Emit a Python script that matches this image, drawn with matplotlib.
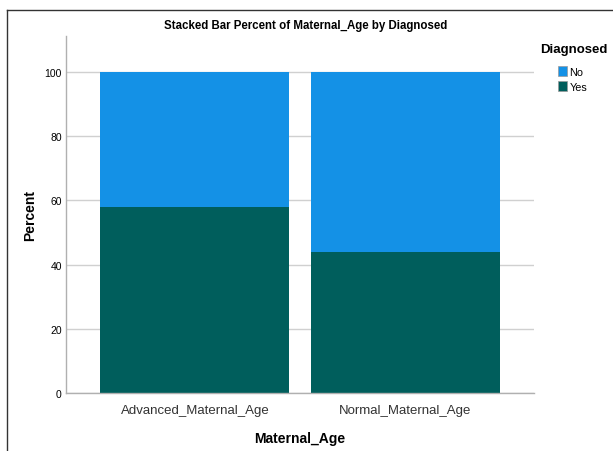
import matplotlib
matplotlib.use("Agg")
import matplotlib.pyplot as plt
from matplotlib.patches import Patch
from matplotlib.lines import Line2D

categories = ["Advanced_Maternal_Age", "Normal_Maternal_Age"]
yes_pct = [57.8, 43.8]
no_pct = [100 - v for v in yes_pct]
series_names = ["No", "Yes"]
yticks = [0, 20, 40, 60, 80, 100]

c_no = "#1491E6"
c_yes = "#005E5C"

plt.rcParams['font.family'] = ['Liberation Sans', 'DejaVu Sans']

fig = plt.figure(figsize=(6.13, 4.52), dpi=100)
ax = fig.add_axes([66/613, 1 - 394/452, (534-66)/613, (394-37)/452])

x = list(range(len(categories)))
ax.bar(x, yes_pct, width=0.9, color=c_yes, zorder=2)
ax.bar(x, no_pct, width=0.9, bottom=yes_pct, color=c_no, zorder=2)

ax.set_xlim(-0.614, 1.614)
ax.set_ylim(0, 111.2)
ax.set_yticks(yticks)
ax.set_yticklabels([str(t) for t in yticks], fontsize=7.5)
ax.set_xticks(x)
ax.set_xticklabels(categories, fontsize=9.5, color="#333333")
ax.yaxis.grid(True, color="#d0d0d0", linewidth=1, zorder=0)
ax.tick_params(axis='x', length=0, pad=8)
ax.tick_params(axis='y', length=0, pad=3)
for s in ["top", "right"]:
    ax.spines[s].set_visible(False)
for s in ["left", "bottom"]:
    ax.spines[s].set_color("#b0b0b0")
    ax.spines[s].set_linewidth(1)

ax.set_xlabel("Maternal_Age", fontsize=10, fontweight="bold", labelpad=11)
ax.set_ylabel("Percent", fontsize=10, fontweight="bold", labelpad=5)
fig.text(306/613, 1 - 26/452, "Stacked Bar Percent of Maternal_Age by Diagnosed",
         ha="center", va="center", fontsize=8.3, fontweight="bold")

fig.text(540/613, 1 - 50/452, "Diagnosed", ha="left", va="center",
         fontsize=9.5, fontweight="bold")
handles = [Patch(facecolor=c_no, edgecolor="#999999", linewidth=0.5),
           Patch(facecolor=c_yes, edgecolor="#999999", linewidth=0.5)]
leg = fig.legend(handles, series_names, loc="upper left",
                 bbox_to_anchor=(558/613, 1 - 67/452), frameon=False,
                 prop={'size': 7.8},
                 handlelength=0.85, handleheight=1.0,
                 handletextpad=0.2, labelspacing=0.45, borderpad=0, borderaxespad=0)

# outer frame
fig.add_artist(Line2D([7/613, 7/613], [0, 1 - 11/452], transform=fig.transFigure,
                      color="#333333", linewidth=1))
fig.add_artist(Line2D([7/613, 1], [1 - 11/452, 1 - 11/452], transform=fig.transFigure,
                      color="#333333", linewidth=1))

fig.savefig("out.png", dpi=100)
